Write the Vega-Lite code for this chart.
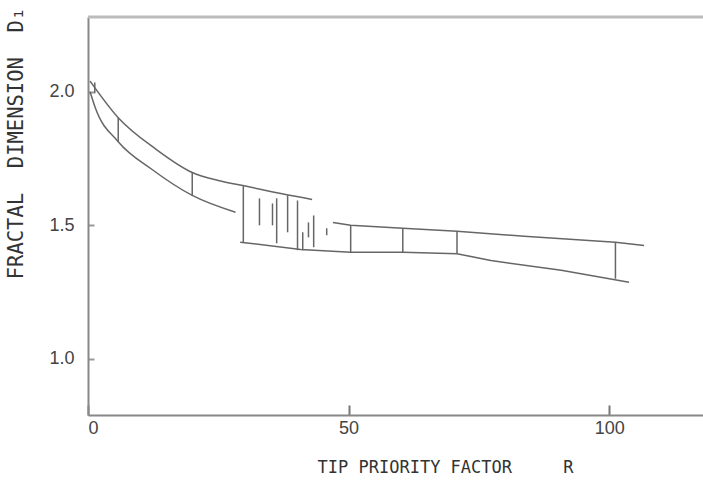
{
  "$schema": "https://vega.github.io/schema/vega-lite/v6.json",
  "width": 615,
  "height": 398,
  "autosize": "none",
  "padding": {"left": 88, "top": 17, "right": 0, "bottom": 73},
  "background": "white",
  "config": {"view": {"stroke": null}},
  "datasets": {
    "smooth": [
      {"s": "u1", "R": 0.4, "D": 2.04}, {"s": "u1", "R": 5.8, "D": 1.903}, {"s": "u1", "R": 12.9, "D": 1.787}, {"s": "u1", "R": 20, "D": 1.698}, {"s": "u1", "R": 25, "D": 1.668}, {"s": "u1", "R": 30.2, "D": 1.647}, {"s": "u1", "R": 37, "D": 1.619}, {"s": "u1", "R": 43, "D": 1.597},
      {"s": "l1", "R": 0.4, "D": 2.0}, {"s": "l1", "R": 1.4, "D": 1.94}, {"s": "l1", "R": 5.8, "D": 1.813}, {"s": "l1", "R": 12.3, "D": 1.709}, {"s": "l1", "R": 20, "D": 1.612}, {"s": "l1", "R": 28.3, "D": 1.549}
    ],
    "straight": [
      {"s": "l2", "R": 29.2, "D": 1.437}, {"s": "l2", "R": 40.8, "D": 1.41}, {"s": "l2", "R": 50.4, "D": 1.399}, {"s": "l2", "R": 60.4, "D": 1.399}, {"s": "l2", "R": 70.8, "D": 1.394}, {"s": "l2", "R": 77.3, "D": 1.368}, {"s": "l2", "R": 90.8, "D": 1.332}, {"s": "l2", "R": 103.8, "D": 1.287},
      {"s": "u2", "R": 47, "D": 1.511}, {"s": "u2", "R": 50.4, "D": 1.50}, {"s": "u2", "R": 60.4, "D": 1.489}, {"s": "u2", "R": 70.8, "D": 1.478}, {"s": "u2", "R": 83.7, "D": 1.459}, {"s": "u2", "R": 101.2, "D": 1.437}, {"s": "u2", "R": 106.7, "D": 1.425}
    ],
    "bars": [
      {"R": 1.3, "lo": 1.995, "hi": 2.035}, {"R": 5.8, "lo": 1.813, "hi": 1.903}, {"R": 20, "lo": 1.612, "hi": 1.698},
      {"R": 29.8, "lo": 1.437, "hi": 1.647}, {"R": 32.9, "lo": 1.50, "hi": 1.601}, {"R": 35.4, "lo": 1.50, "hi": 1.582},
      {"R": 36.2, "lo": 1.433, "hi": 1.601}, {"R": 38.3, "lo": 1.474, "hi": 1.612}, {"R": 40.2, "lo": 1.407, "hi": 1.593},
      {"R": 41.2, "lo": 1.407, "hi": 1.474}, {"R": 42.3, "lo": 1.455, "hi": 1.511}, {"R": 43.3, "lo": 1.418, "hi": 1.537},
      {"R": 45.8, "lo": 1.463, "hi": 1.489}, {"R": 50.4, "lo": 1.399, "hi": 1.50}, {"R": 60.4, "lo": 1.399, "hi": 1.489},
      {"R": 70.8, "lo": 1.394, "hi": 1.478}, {"R": 101.2, "lo": 1.30, "hi": 1.437}
    ],
    "top": [{"R": 0, "R2": 118, "D": 2.28}]
  },
  "layer": [
    {
      "data": {"name": "top"},
      "mark": {"type": "rule", "color": "#bbbbbb", "strokeWidth": 3},
      "encoding": {
        "x": {"field": "R", "type": "quantitative", "scale": {"domain": [0, 118]}},
        "x2": {"field": "R2"},
        "y": {"field": "D", "type": "quantitative", "scale": {"domain": [0.79, 2.28]}}
      }
    },
    {
      "data": {"name": "smooth"},
      "mark": {"type": "line", "color": "#666666", "strokeWidth": 1.5, "interpolate": "monotone"},
      "encoding": {
        "x": {
          "field": "R", "type": "quantitative",
          "scale": {"domain": [0, 118], "nice": false, "zero": false},
          "axis": {
            "values": [0, 50, 100], "tickSize": -10, "tickColor": "#777777", "tickWidth": 2, "ticks": true, "tickOpacity": 1,
            "domainColor": "#888", "domainWidth": 2, "grid": false,
            "labelFont": "Liberation Sans", "labelFontSize": 18, "labelColor": "#444", "labelPadding": 14,
            "title": "TIP PRIORITY FACTOR\u00a0\u00a0\u00a0\u00a0\u00a0R", "titleFont": "DejaVu Sans Mono", "titleFontSize": 17,
            "titleFontWeight": "normal", "titleColor": "#333", "titleX": 357, "titleY": 52,
            "titleAlign": "center", "titleBaseline": "middle"
          }
        },
        "y": {
          "field": "D", "type": "quantitative",
          "scale": {"domain": [0.79, 2.28], "nice": false, "zero": false},
          "axis": {
            "values": [1.0, 1.5, 2.0], "format": ".1f", "tickSize": -6, "tickColor": "#999999", "tickWidth": 2, "ticks": true, "tickOpacity": 1,
            "domainColor": "#888", "domainWidth": 2, "grid": false,
            "labelFont": "Liberation Sans", "labelFontSize": 18, "labelColor": "#444", "labelPadding": 20,
            "title": "FRACTAL\u00a0\u00a0DIMENSION\u00a0\u00a0D₁", "titleFont": "DejaVu Sans Mono", "titleFontSize": 20.5,
            "titleFontWeight": "normal", "titleColor": "#333", "titleX": -72, "titleY": 126,
            "titleAngle": -90, "titleAlign": "center", "titleBaseline": "middle"
          }
        },
        "detail": {"field": "s", "type": "nominal"}
      }
    },
    {
      "data": {"name": "straight"},
      "mark": {"type": "line", "color": "#666666", "strokeWidth": 1.5},
      "encoding": {
        "x": {"field": "R", "type": "quantitative"},
        "y": {"field": "D", "type": "quantitative"},
        "detail": {"field": "s", "type": "nominal"}
      }
    },
    {
      "data": {"name": "bars"},
      "mark": {"type": "rule", "color": "#666666", "strokeWidth": 1.5},
      "encoding": {
        "x": {"field": "R", "type": "quantitative"},
        "y": {"field": "lo", "type": "quantitative"},
        "y2": {"field": "hi"}
      }
    }
  ]
}
